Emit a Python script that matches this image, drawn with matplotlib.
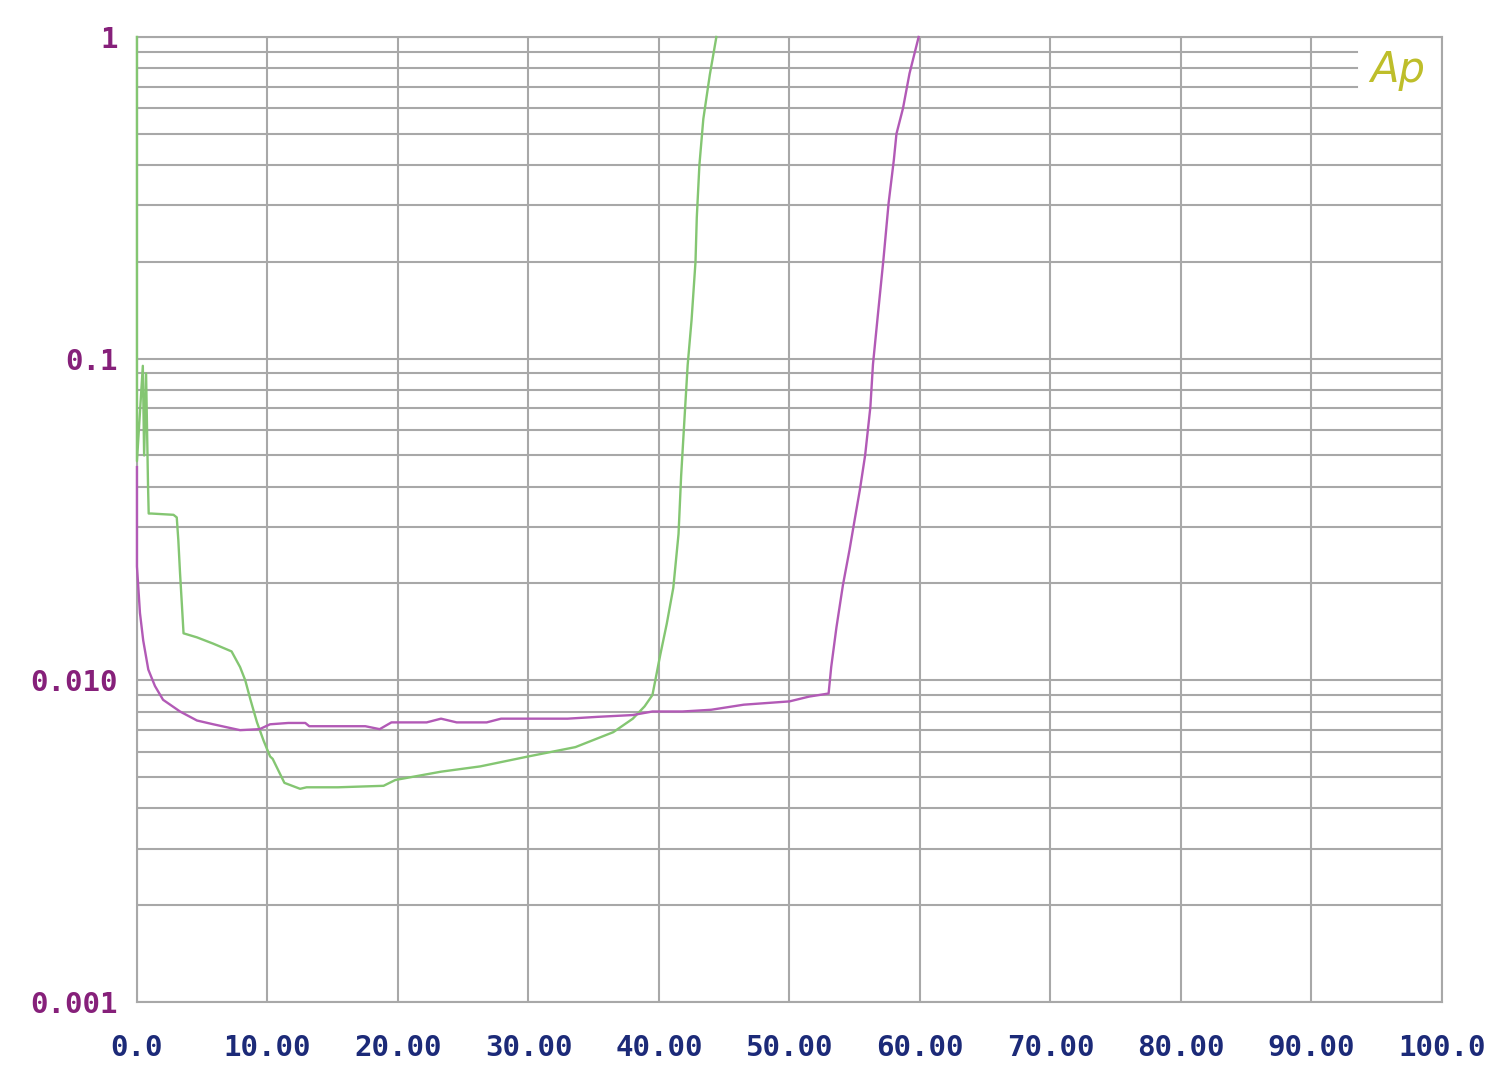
import matplotlib
matplotlib.use("Agg")
import matplotlib.pyplot as plt
import numpy as np

# green trace
green_x = [0, 0, 0.45, 0.55, 0.7, 0.85, 0.9, 1.1, 2.8, 3.05, 3.17, 3.3, 3.45, 3.57,
           4.6, 5.85, 7.25, 7.9, 8.3, 8.7, 9.2, 9.7, 10.2, 10.4, 11.3, 12.5, 13.0,
           15.4, 18.9, 19.8, 23.3, 26.3, 30.0, 33.6, 36.5, 38.0, 38.9, 39.5, 39.7,
           40.1, 40.6, 41.1, 41.5, 41.7, 42.0, 42.2, 42.5, 42.8, 42.9, 43.1, 43.4,
           43.9, 44.4]
green_y = [1.0, 0.048, 0.095, 0.05, 0.09, 0.04, 0.033, 0.033, 0.0327, 0.0321, 0.0273,
           0.0216, 0.017, 0.014, 0.0136, 0.013, 0.0123, 0.011, 0.010, 0.0087, 0.0074,
           0.0065, 0.0058, 0.0057, 0.0048, 0.0046, 0.00465, 0.00465, 0.0047, 0.0049,
           0.0052, 0.0054, 0.0058, 0.0062, 0.0069, 0.0076, 0.0083, 0.0090, 0.0099,
           0.012, 0.015, 0.0194, 0.0285, 0.0432, 0.0697, 0.0955, 0.132, 0.2, 0.275,
           0.40, 0.556, 0.764, 1.0]

# purple trace
purple_x = [0, 0, 0.23, 0.48, 0.87, 1.38, 2.0, 3.3, 4.6, 5.85, 7.9, 9.4, 10.2, 11.6,
            12.9, 13.2, 17.5, 18.6, 19.5, 22.2, 23.3, 24.5, 26.8, 27.9, 33.0, 35.3,
            38.0, 39.5, 41.8, 44.0, 46.5, 50.0, 51.5, 53.0, 53.2, 53.6, 54.1, 54.6,
            55.0, 55.4, 55.8, 56.2, 56.4, 56.8, 57.2, 57.6, 58.0, 58.2, 58.7, 59.2,
            59.9]
purple_y = [0.046, 0.0226, 0.0162, 0.0133, 0.0108, 0.0096, 0.0087, 0.0080, 0.0075,
            0.0073, 0.0070, 0.00705, 0.0073, 0.00737, 0.00737, 0.0072, 0.0072,
            0.00705, 0.0074, 0.0074, 0.0076, 0.0074, 0.0074, 0.0076, 0.0076, 0.0077,
            0.0078, 0.0080, 0.0080, 0.0081, 0.0084, 0.0086, 0.0089, 0.0091, 0.011,
            0.0146, 0.0198, 0.0254, 0.0316, 0.0392, 0.0501, 0.0707, 0.096, 0.14,
            0.203, 0.305, 0.415, 0.50, 0.60, 0.77, 1.0]

x_ticks = [0, 10, 20, 30, 40, 50, 60, 70, 80, 90, 100]
x_labels = ["0.0", "10.00", "20.00", "30.00", "40.00", "50.00", "60.00",
            "70.00", "80.00", "90.00", "100.0"]
y_ticks = [0.001, 0.01, 0.1, 1]
y_labels = ["0.001", "0.010", "0.1", "1"]

grid_c = "#a8a8a8"

fig = plt.figure(figsize=(15, 10.72), dpi=100)
ax = fig.add_axes([0.0913, 0.0653, 0.87, 0.9002])
ax.set_yscale("log")
ax.set_xlim(0, 100)
ax.set_ylim(0.001, 1)

# grid drawn by hand so the top lines can stop short of the logo
for xv in x_ticks:
    ax.axvline(xv, color=grid_c, lw=1.5, zorder=1)
for dec in [0.001, 0.01, 0.1]:
    for m in range(1, 10):
        v = dec * m
        xmax = 0.935 if v >= 0.65 else 1.0
        ax.axhline(v, xmax=xmax, color=grid_c, lw=1.5, zorder=1)
ax.axhline(1, color=grid_c, lw=1.5, zorder=1)

for s in ax.spines.values():
    s.set_color(grid_c)
    s.set_linewidth(1.5)

ax.plot(green_x, green_y, color="#84c672", lw=1.7, zorder=3, clip_on=False)
ax.plot(purple_x, purple_y, color="#b25ab6", lw=1.7, zorder=3, clip_on=False)

ax.set_xticks(x_ticks)
ax.set_xticklabels(x_labels, family="DejaVu Sans Mono", weight="bold",
                   fontsize=21, color="#1c2a78")
ax.set_yticks(y_ticks)
ax.set_yticklabels(y_labels, family="DejaVu Sans Mono", weight="bold",
                   fontsize=21, color="#86207a")
ax.yaxis.set_minor_locator(matplotlib.ticker.NullLocator())
ax.tick_params(axis="x", length=0, pad=23)
ax.tick_params(axis="y", length=0, pad=14)

ax.text(0.966, 0.966, "Ap", transform=ax.transAxes, fontsize=30, style="italic",
        color="#bebe2a", ha="center", va="center", family="DejaVu Sans",
        weight="light")

fig.savefig("out.png", dpi=100, facecolor="white")
